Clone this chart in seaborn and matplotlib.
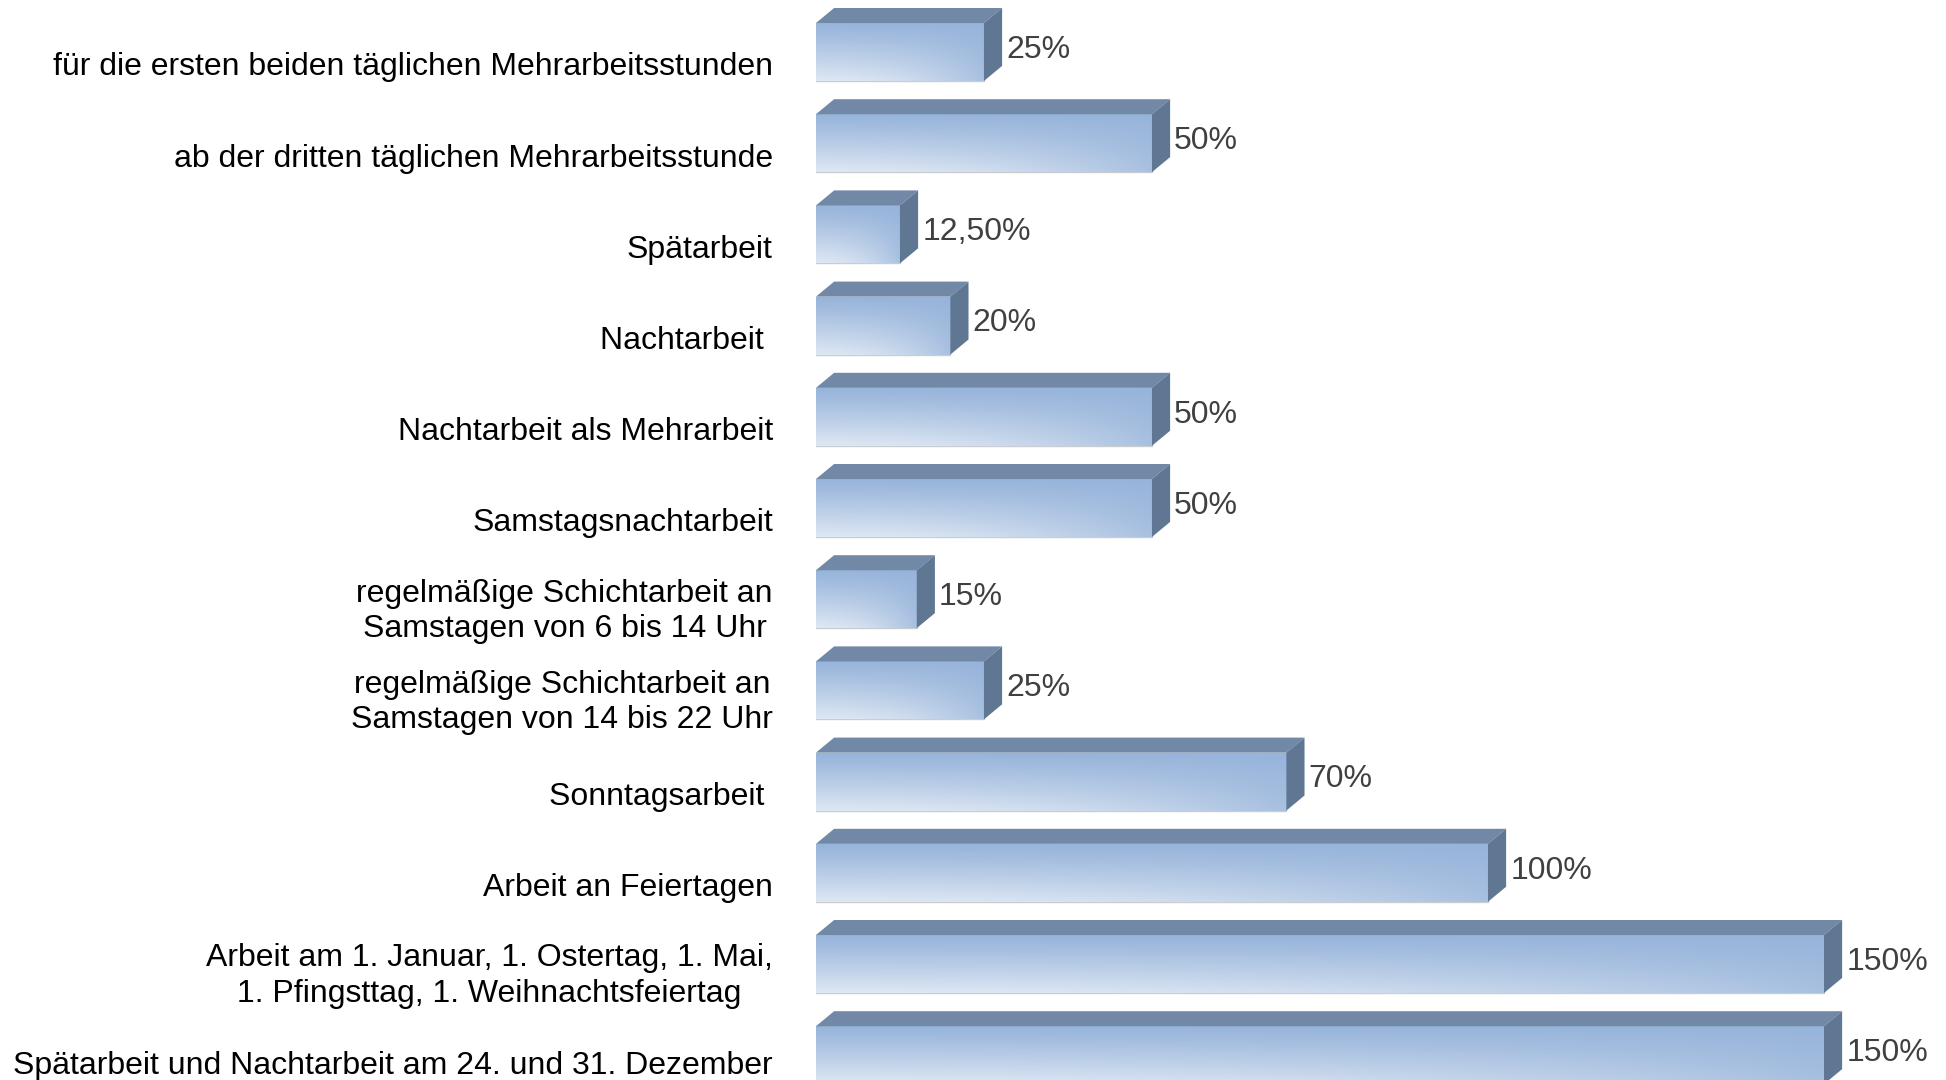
import matplotlib
matplotlib.use('Agg')
import matplotlib.pyplot as plt
import matplotlib.transforms as mtransforms
from matplotlib.patches import Polygon
from matplotlib.colors import to_rgb
import seaborn as sns
import pandas as pd
import numpy as np

categories = [
    'für die ersten beiden täglichen Mehrarbeitsstunden',
    'ab der dritten täglichen Mehrarbeitsstunde',
    'Spätarbeit',
    'Nachtarbeit ',
    'Nachtarbeit als Mehrarbeit',
    'Samstagsnachtarbeit',
    'regelmäßige Schichtarbeit an\nSamstagen von 6 bis 14 Uhr',
    'regelmäßige Schichtarbeit an\nSamstagen von 14 bis 22 Uhr',
    'Sonntagsarbeit ',
    'Arbeit an Feiertagen',
    'Arbeit am 1. Januar, 1. Ostertag, 1. Mai,\n1. Pfingsttag, 1. Weihnachtsfeiertag',
    'Spätarbeit und Nachtarbeit am 24. und 31. Dezember',
]
values = [25, 50, 12.5, 20, 50, 50, 15, 25, 70, 100, 150, 150]
value_labels = ['25%', '50%', '12,50%', '20%', '50%', '50%', '15%', '25%',
                '70%', '100%', '150%', '150%']

sns.set_theme(style='white')
plt.rcParams['font.family'] = ['Liberation Sans', 'DejaVu Sans']

FS = 23.0
BLUE = np.array(to_rgb('#93b1d9'))
LIGHT = np.array(to_rgb('#e0e9f4'))
TOP_COL = '#7189a6'
SIDE_COL = '#5f7793'
DX = 2.7    # depth offset, x data units (%)
DY = 0.165  # depth offset, category units

fig = plt.figure(figsize=(19.46, 10.8), dpi=100)
ax = fig.add_axes([0.4193, 0.0, 0.5807, 1.0])

df = pd.DataFrame({'Kategorie': categories, 'Zuschlag': values})
sns.barplot(data=df, x='Zuschlag', y='Kategorie', orient='h', width=0.635,
            color='#95b3d7', saturation=1, ax=ax)

# gradient used on the front faces
gh, gw = 60, 300
v = np.linspace(0, 1, gh)[:, None]
u = np.linspace(0, 1, gw)[None, :]
L = np.clip(0.92 * v ** 1.1 * (1 - 0.75 * u ** 2) + 0.05, 0, 1)
grad = BLUE[None, None, :] + L[:, :, None] * (LIGHT - BLUE)[None, None, :]

for bar, lab in zip(list(ax.patches), value_labels):
    x0, y0 = bar.get_x(), bar.get_y()
    w, h = bar.get_width(), bar.get_height()
    x1 = x0 + w
    bar.set_edgecolor('#c9ccd0')
    bar.set_linewidth(1.0)
    im = ax.imshow(grad, extent=(x0, x1, y0 + h, y0), origin='upper',
                   aspect='auto', interpolation='bilinear', zorder=2.5)
    im.set_clip_path(bar)
    top = Polygon([(x0, y0), (x1, y0), (x1 + DX, y0 - DY), (x0 + DX, y0 - DY)],
                  closed=True, facecolor=TOP_COL, edgecolor='none', zorder=3)
    side = Polygon([(x1, y0), (x1 + DX, y0 - DY), (x1 + DX, y0 + h - DY), (x1, y0 + h)],
                   closed=True, facecolor=SIDE_COL, edgecolor='none', zorder=3)
    ax.add_patch(top)
    ax.add_patch(side)
    ax.text(x1 + DX + 0.6, y0 + h / 2 - 0.025, lab, ha='left', va='center',
            fontsize=FS, color='#404040', clip_on=False, zorder=4)

ax.set_xlim(0, 1130 / 6.72)
ax.set_ylim((1080 - 52) / 91.2, -52 / 91.2)
ax.set_xlabel('')
ax.set_ylabel('')
ax.set_xticks([])
for s in ax.spines.values():
    s.set_visible(False)
ax.tick_params(axis='y', length=0, pad=31, labelsize=FS, labelcolor='black')

ticklabels = ax.get_yticklabels()
for i, lbl in enumerate(ticklabels):
    shift = 4.3 if '\n' in lbl.get_text() else 8.5
    if i == len(ticklabels) - 1:
        shift = 5.5  # keep the descenders inside the figure
    offset = mtransforms.ScaledTranslation(0, -shift / 72, fig.dpi_scale_trans)
    lbl.set_multialignment('center')
    lbl.set_linespacing(1.22)
    lbl.set_transform(lbl.get_transform() + offset)

fig.savefig('out.png', dpi=100)
